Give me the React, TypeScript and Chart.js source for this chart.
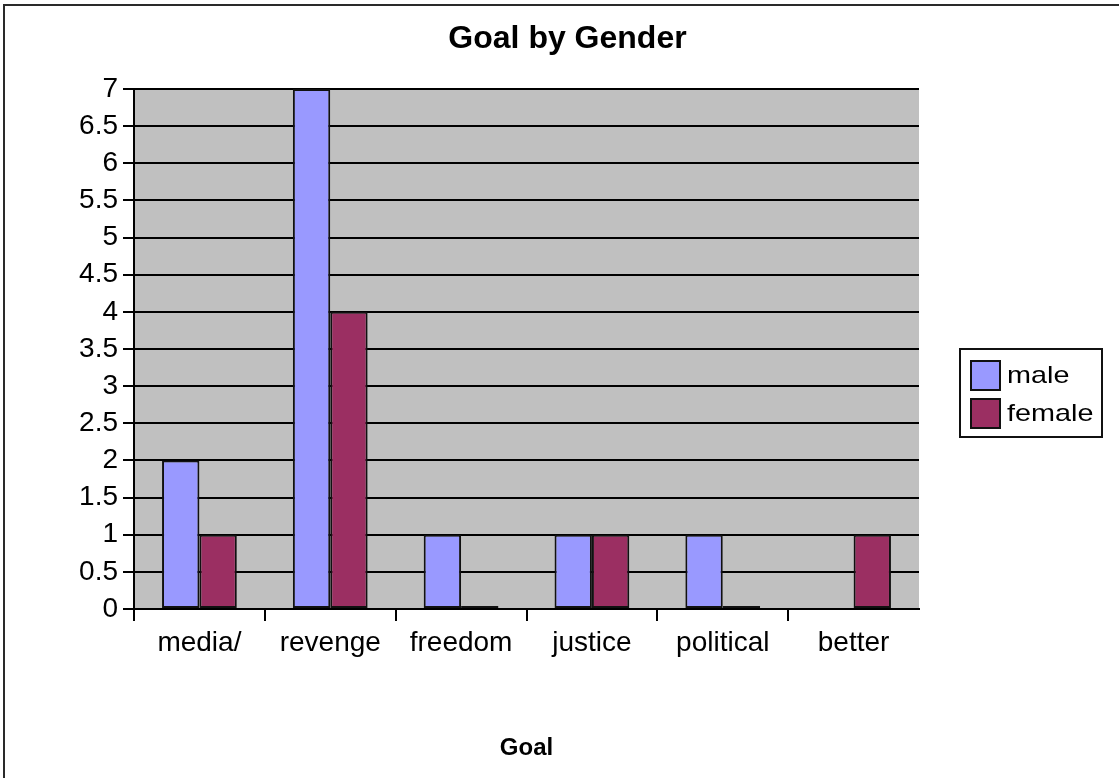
import { useEffect, useRef } from 'react';
import { Chart, registerables } from 'chart.js';

Chart.register(...registerables);

const categories = ['media/', 'revenge', 'freedom', 'justice', 'political', 'better'];
const maleValues: (number | null)[] = [2, 7, 1, 1, 1, null];
const femaleValues: (number | null)[] = [1, 4, 0, 1, 0, 1];
const seriesNames = ['male', 'female'];
const seriesColors = ['#9999FF', '#9B2F62'];
const yMin = 0;
const yMax = 7;
const yStep = 0.5;

const FONT = '"Liberation Sans", Arial, sans-serif';
const WIDTH = 1119;
const HEIGHT = 778;

// White page with the sheet frame (top and left edges) and the grey plot area.
const framePlugin = {
  id: 'frame',
  beforeDraw(chart: Chart) {
    const { ctx, chartArea } = chart;
    ctx.save();
    ctx.fillStyle = '#ffffff';
    ctx.fillRect(0, 0, chart.width, chart.height);
    ctx.strokeStyle = '#2a2a2a';
    ctx.lineWidth = 2;
    ctx.beginPath();
    ctx.moveTo(4, chart.height);
    ctx.lineTo(4, 5);
    ctx.lineTo(chart.width, 5);
    ctx.stroke();
    ctx.fillStyle = '#C0C0C0';
    ctx.fillRect(chartArea.left, chartArea.top, chartArea.right - chartArea.left, chartArea.bottom - chartArea.top);
    ctx.restore();
  },
};

// Boxed legend to the right of the plot, drawn from the datasets.
const boxLegendPlugin = {
  id: 'boxLegend',
  afterDraw(chart: Chart) {
    const { ctx, chartArea } = chart;
    const left = chartArea.right + 41;
    const boxW = 142;
    const boxH = 88;
    const top = chart.height / 2 + 4 - boxH / 2;
    ctx.save();
    ctx.fillStyle = '#ffffff';
    ctx.fillRect(left, top, boxW, boxH);
    ctx.strokeStyle = '#111';
    ctx.lineWidth = 2;
    ctx.strokeRect(left, top, boxW, boxH);
    chart.data.datasets.forEach((ds: any, i: number) => {
      const cy = top + 27 + i * 38;
      ctx.fillStyle = ds.backgroundColor;
      ctx.fillRect(left + 11, cy - 15, 29, 29);
      ctx.strokeStyle = '#111';
      ctx.lineWidth = 2;
      ctx.strokeRect(left + 11, cy - 15, 29, 29);
      ctx.fillStyle = '#000';
      ctx.font = `24px ${FONT}`;
      ctx.textBaseline = 'middle';
      ctx.textAlign = 'left';
      ctx.save();
      ctx.translate(left + 47, cy);
      ctx.scale(1.2, 1);
      ctx.fillText(String(ds.label), 0, 0);
      ctx.restore();
    });
    ctx.restore();
  },
};

export default function App() {
  const canvasRef = useRef<HTMLCanvasElement | null>(null);

  useEffect(() => {
    if (!canvasRef.current) return;
    const chart = new Chart(canvasRef.current, {
      type: 'bar',
      data: {
        labels: categories,
        datasets: [
          {
            label: seriesNames[0],
            data: maleValues,
            backgroundColor: seriesColors[0],
            borderColor: '#111',
            borderWidth: 2,
            borderSkipped: false,
            minBarLength: 3,
            yAxisID: 'y',
          },
          {
            label: seriesNames[1],
            data: femaleValues,
            backgroundColor: seriesColors[1],
            borderColor: '#111',
            borderWidth: 2,
            borderSkipped: false,
            minBarLength: 3,
            yAxisID: 'y',
          },
        ],
      },
      options: {
        responsive: false,
        animation: false,
        events: [],
        datasets: {
          bar: {
            categoryPercentage: 2 / 3.5,
            barPercentage: 1,
          },
        },
        layout: { padding: { left: 16, right: 0, top: 0, bottom: 0 } },
        plugins: {
          legend: { display: false },
          tooltip: { enabled: false },
          title: {
            display: true,
            text: 'Goal by Gender',
            color: '#000',
            font: { family: FONT, size: 32, weight: 'bold' },
            padding: { top: 20, bottom: 30.6 },
          },
        },
        scales: {
          x: {
            offset: true,
            grid: {
              offset: true,
              drawOnChartArea: false,
              drawTicks: true,
              tickLength: 12,
              lineWidth: 2,
              color: (c: any) => (c.tick ? '#000' : 'rgba(0,0,0,0)'),
            },
            border: { display: true, color: '#000', width: 2 },
            ticks: {
              color: '#000',
              font: { family: FONT, size: 28 },
              padding: 5,
              autoSkip: false,
              maxRotation: 0,
            },
            title: {
              display: true,
              text: 'Goal',
              color: '#000',
              font: { family: FONT, size: 24, weight: 'bold' },
              padding: { top: 0, bottom: 15 },
            },
            afterFit(scale: any) {
              scale.height = 169;
            },
          },
          y: {
            position: 'left',
            min: yMin,
            max: yMax,
            grid: {
              drawOnChartArea: true,
              drawTicks: true,
              tickLength: 11,
              lineWidth: 2,
              color: '#000',
            },
            border: { display: true, color: '#000', width: 2 },
            ticks: {
              stepSize: yStep,
              color: '#000',
              font: { family: FONT, size: 28 },
              padding: 5,
              autoSkip: false,
              callback: (v: any) => String(Number(v)),
            },
            afterFit(scale: any) {
              scale.width = 118;
            },
          },
          // Empty column on the right that holds the legend box.
          legendSpace: {
            type: 'linear',
            position: 'right',
            display: true,
            grid: { display: false },
            border: { display: false },
            ticks: { display: false },
            afterFit(scale: any) {
              scale.width = 200;
            },
          },
        },
      },
      plugins: [framePlugin, boxLegendPlugin],
    });
    return () => chart.destroy();
  }, []);

  return (
    <div style={{ position: 'fixed', left: 0, top: 0, width: WIDTH, height: HEIGHT, background: '#fff' }}>
      <canvas ref={canvasRef} width={WIDTH} height={HEIGHT} style={{ display: 'block' }} />
    </div>
  );
}
